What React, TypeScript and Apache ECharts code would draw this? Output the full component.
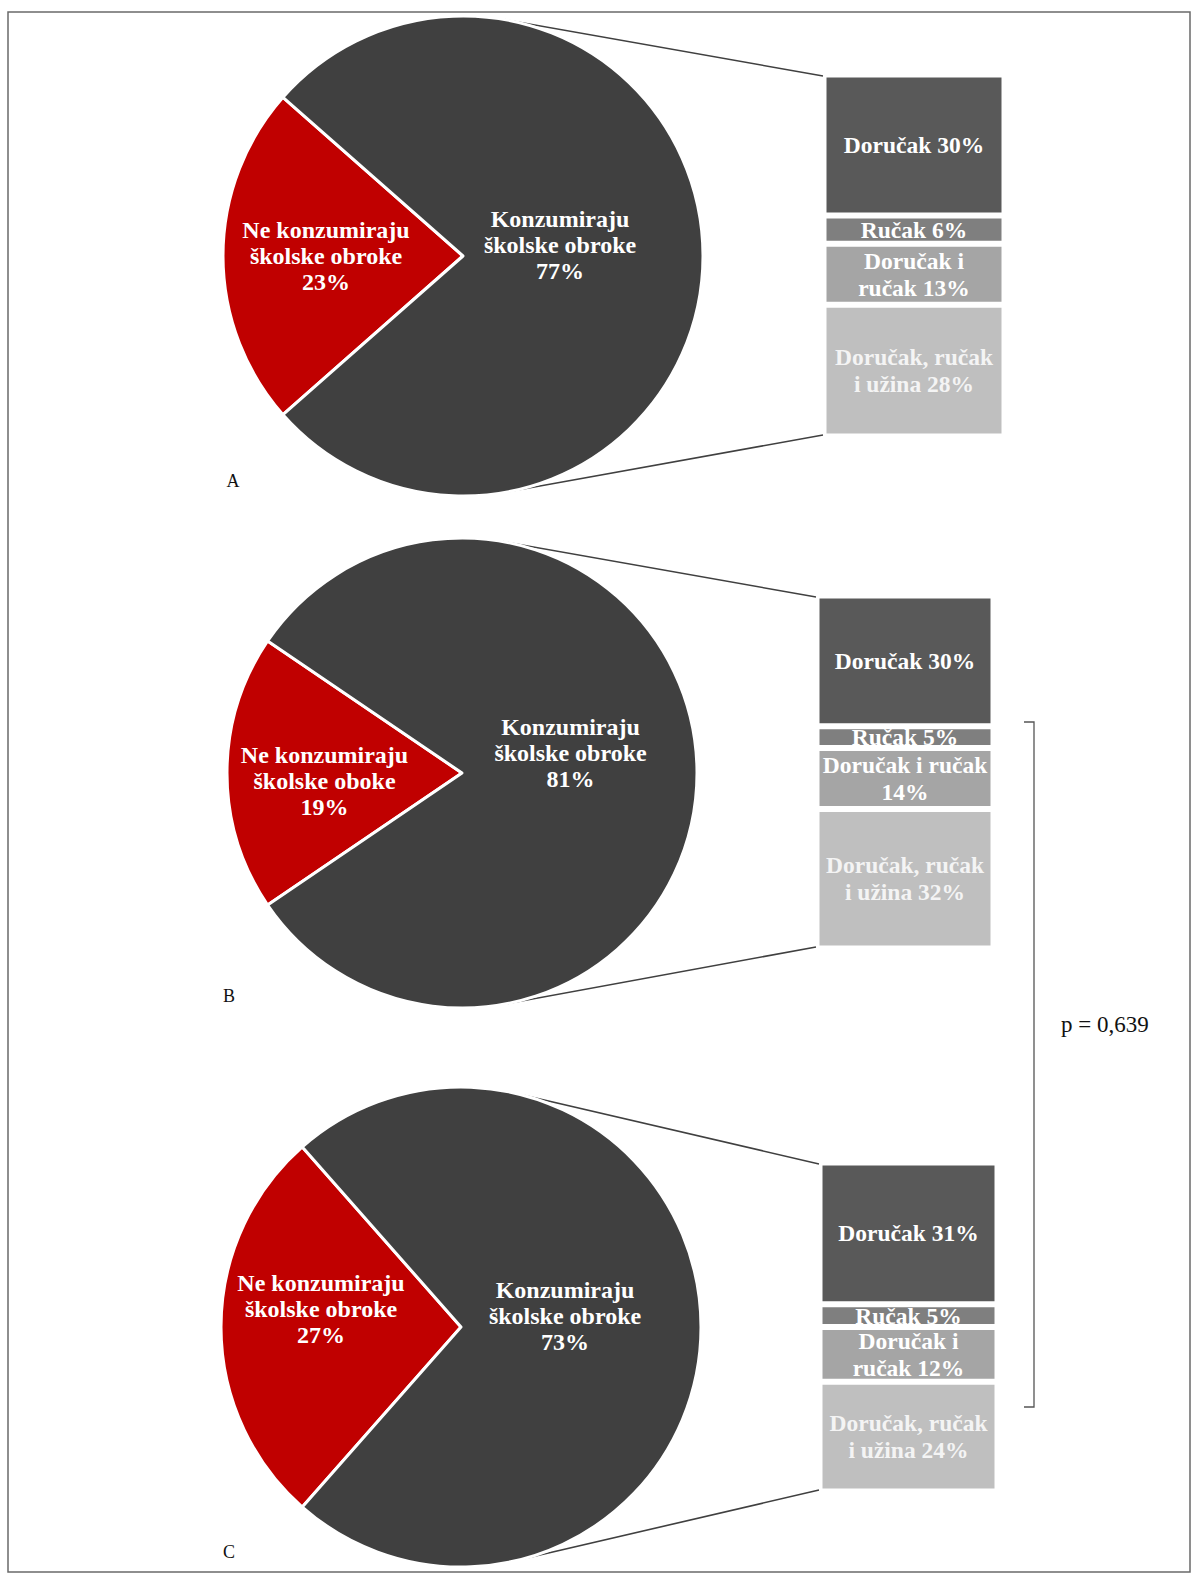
import React, { useEffect, useRef } from "react";
import * as echarts from "echarts";

// ---------- data ----------
const panelTags = ["A", "B", "C"];

const pieValuesA = [23, 77];
const pieValuesB = [19, 81];
const pieValuesC = [27, 73];

const pieLabelsA = ["Ne konzumiraju\nškolske obroke", "Konzumiraju\nškolske obroke"];
const pieLabelsB = ["Ne konzumiraju\nškolske oboke", "Konzumiraju\nškolske obroke"];
const pieLabelsC = ["Ne konzumiraju\nškolske obroke", "Konzumiraju\nškolske obroke"];

const mealNames = ["Doručak", "Ručak", "Doručak i ručak", "Doručak, ručak i užina"];
const mealValuesA = [30, 6, 13, 28];
const mealValuesB = [30, 5, 14, 32];
const mealValuesC = [31, 5, 12, 24];

// label text templates ({v} = value)
const mealLabelsA = ["Doručak {v}%", "Ručak {v}%", "Doručak i\nručak {v}%", "Doručak, ručak\ni užina {v}%"];
const mealLabelsB = ["Doručak {v}%", "Ručak {v}%", "Doručak i ručak\n{v}%", "Doručak, ručak\ni užina {v}%"];
const mealLabelsC = ["Doručak {v}%", "Ručak {v}%", "Doručak i\nručak {v}%", "Doručak, ručak\ni užina {v}%"];

const pValueText = "p = 0,639";

// ---------- styles / layout ----------
const W = 1203;
const H = 1584;
const SERIF = "'Liberation Serif', 'Times New Roman', serif";
const RED = "#c00000";
const PIE_DARK = "#404040";
const BAR_COLORS = ["#595959", "#7f7f7f", "#a5a5a5", "#bfbfbf"];
const LINE_COLOR = "#404040";
const GAP = 3;

const layout = [
  { cx: 463, cy: 256, r: 240, bar: { x: 825, y: 76, w: 178, h: 359 }, tag: { x: 233, y: 481 }, offs: [[-14, 0], [-26, -11]] },
  { cx: 462, cy: 773, r: 235, bar: { x: 818, y: 597, w: 174, h: 350 }, tag: { x: 229, y: 996 }, offs: [[-17, 8], [-12, -20]] },
  { cx: 461, cy: 1327, r: 240, bar: { x: 821, y: 1164, w: 175, h: 326 }, tag: { x: 229, y: 1552 }, offs: [[-17, -18], [-19, -11]] },
];

const panels = [
  { pie: pieValuesA, pieLabels: pieLabelsA, meals: mealValuesA, mealLabels: mealLabelsA },
  { pie: pieValuesB, pieLabels: pieLabelsB, meals: mealValuesB, mealLabels: mealLabelsB },
  { pie: pieValuesC, pieLabels: pieLabelsC, meals: mealValuesC, mealLabels: mealLabelsC },
];

function tangent(cx: number, cy: number, r: number, px: number, py: number, upper: boolean) {
  const dx = px - cx;
  const dy = py - cy;
  const d = Math.sqrt(dx * dx + dy * dy);
  const base = Math.atan2(dy, dx);
  const off = Math.acos(r / d);
  const a = upper ? base - off : base + off;
  return [cx + r * Math.cos(a), cy + r * Math.sin(a)];
}

function buildOption() {
  const grids: any[] = [];
  const xAxes: any[] = [];
  const yAxes: any[] = [];
  const series: any[] = [];
  const graphics: any[] = [];

  graphics.push({
    type: "rect",
    shape: { x: 8, y: 12, width: 1182, height: 1560 },
    style: { fill: "none", stroke: "#6a6a6a", lineWidth: 1.5 },
    silent: true,
  });

  panels.forEach((p, i) => {
    const L = layout[i];
    const total = p.meals.reduce((a, b) => a + b, 0);
    grids.push({ left: L.bar.x - GAP / 2, top: L.bar.y - GAP / 2, width: L.bar.w + GAP, height: L.bar.h + GAP, containLabel: false });
    xAxes.push({ type: "category", gridIndex: i, data: ["x"], show: false });
    yAxes.push({ type: "value", gridIndex: i, min: 0, max: total, inverse: true, show: false });

    p.meals.forEach((v, k) => {
      series.push({
        type: "bar",
        name: mealNames[k],
        stack: "s" + i,
        xAxisIndex: i,
        yAxisIndex: i,
        barWidth: "100%",
        data: [v],
        silent: true,
        itemStyle: { color: BAR_COLORS[k], borderColor: "#ffffff", borderWidth: GAP },
        label: {
          show: true,
          position: "inside",
          formatter: () => p.mealLabels[k].replace("{v}", String(v)),
          color: k === 3 ? "#f4f4f4" : "#ffffff",
          fontFamily: SERIF,
          fontWeight: "bold",
          fontSize: 23.5,
          lineHeight: 27,
          align: "center",
        },
      });
    });

    const redPct = p.pie[0];
    series.push({
      type: "pie",
      center: [L.cx, L.cy],
      radius: L.r,
      startAngle: 180 + (360 * redPct) / 100 / 2,
      clockwise: true,
      silent: true,
      avoidLabelOverlap: false,
      itemStyle: { borderColor: "#ffffff", borderWidth: 3 },
      data: p.pie.map((v, k) => ({
        value: v,
        name: p.pieLabels[k],
        itemStyle: { color: k === 0 ? RED : PIE_DARK },
      })),
      label: {
        show: true,
        position: "inside",
        formatter: (prm: any) => `${p.pieLabels[prm.dataIndex]}\n${prm.value}%`,
        color: "#ffffff",
        fontFamily: SERIF,
        fontWeight: "bold",
        fontSize: 24,
        lineHeight: 26,
        align: "center",
      },
      labelLine: { show: false },
      labelLayout: (prm: any) => ({ dx: L.offs[prm.dataIndex][0], dy: L.offs[prm.dataIndex][1] }),
      emphasis: { disabled: true },
    });

    // connector lines (tangents from bar corners to the pie)
    const top = tangent(L.cx, L.cy, L.r, L.bar.x, L.bar.y, true);
    const bot = tangent(L.cx, L.cy, L.r, L.bar.x, L.bar.y + L.bar.h, false);
    graphics.push({
      type: "line",
      shape: { x1: top[0], y1: top[1], x2: L.bar.x - 2, y2: L.bar.y },
      style: { stroke: LINE_COLOR, lineWidth: 1.6 },
      silent: true,
    });
    graphics.push({
      type: "line",
      shape: { x1: bot[0], y1: bot[1], x2: L.bar.x - 2, y2: L.bar.y + L.bar.h },
      style: { stroke: LINE_COLOR, lineWidth: 1.6 },
      silent: true,
    });

    graphics.push({
      type: "text",
      x: L.tag.x,
      y: L.tag.y,
      style: { text: panelTags[i], fontFamily: SERIF, fontSize: 18, fill: "#111", align: "center", verticalAlign: "middle" },
      silent: true,
    });
  });

  // bracket between B and C
  graphics.push({
    type: "polyline",
    shape: { points: [[1024, 722], [1034, 722], [1034, 1407], [1024, 1407]] },
    style: { stroke: "#555", lineWidth: 1.3, fill: "none" },
    silent: true,
  });
  graphics.push({
    type: "text",
    x: 1061,
    y: 1024,
    style: { text: pValueText, fontFamily: SERIF, fontSize: 23, fill: "#111", align: "left", verticalAlign: "middle" },
    silent: true,
  });

  return {
    animation: false,
    backgroundColor: "#ffffff",
    grid: grids,
    xAxis: xAxes,
    yAxis: yAxes,
    series,
    graphic: graphics,
  };
}

export default function App() {
  const ref = useRef<HTMLDivElement>(null);
  useEffect(() => {
    document.body.style.margin = "0";
    if (!ref.current) return;
    const chart = echarts.init(ref.current, undefined, { renderer: "svg" });
    chart.setOption(buildOption() as any);
    return () => chart.dispose();
  }, []);
  return <div ref={ref} style={{ width: W, height: H, display: "block" }} />;
}
